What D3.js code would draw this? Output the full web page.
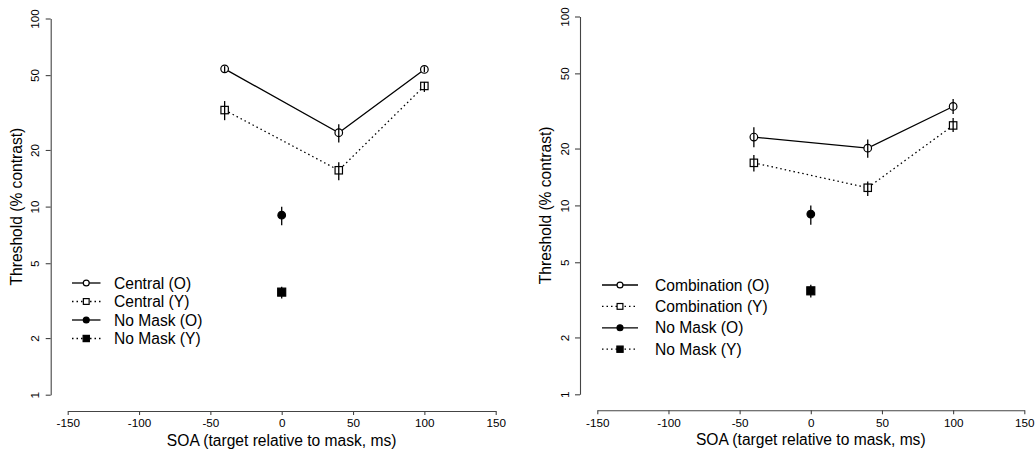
<!DOCTYPE html>
<html>
<head>
<meta charset="utf-8">
<script src="https://cdn.jsdelivr.net/npm/d3@7"></script>
<style>
  body { margin: 0; background: #fff; }
  svg { display: block; font-family: "Liberation Sans", Arial, Helvetica, sans-serif; }
</style>
</head>
<body>
<svg id="chart" width="1035" height="457"></svg>
<script>
/*
 * Threshold vs SOA, two panels (log y)
 */

var soa = [-40, 40, 100];
var xTicks = [-150, -100, -50, 0, 50, 100, 150];
var yTicks = [1, 2, 5, 10, 20, 50, 100];

// left panel: central mask
var centralOld   = [54.0, 24.7, 53.6];
var centralOldLo = [52.0, 21.9, 51.8];
var centralOldHi = [55.8, 27.4, 55.6];
var centralYoung   = [32.6, 15.6, 43.8];
var centralYoungLo = [28.8, 13.8, 40.7];
var centralYoungHi = [36.4, 17.2, 46.0];

// right panel: combination mask
var comboOld   = [23.0, 20.1, 33.4];
var comboOldLo = [20.3, 17.9, 30.5];
var comboOldHi = [25.9, 22.3, 36.6];
var comboYoung   = [16.8, 12.4, 26.5];
var comboYoungLo = [15.1, 11.2, 24.5];
var comboYoungHi = [18.5, 13.4, 29.0];

// no mask, at SOA 0
var noMaskSoa = [0];
var noMaskOldL = [9.0],  noMaskOldLLo = [7.97], noMaskOldLHi = [9.97];
var noMaskYoungL = [3.51], noMaskYoungLLo = [3.25], noMaskYoungLHi = [3.75];
var noMaskOldR = [9.0],  noMaskOldRLo = [7.9],  noMaskOldRHi = [10.0];
var noMaskYoungR = [3.53], noMaskYoungRLo = [3.25], noMaskYoungRHi = [3.8];

var leftLabels  = ['Central (O)', 'Central (Y)', 'No Mask (O)', 'No Mask (Y)'];
var rightLabels = ['Combination (O)', 'Combination (Y)', 'No Mask (O)', 'No Mask (Y)'];

var svg = d3.select('#chart');
var DOT = '1.5,3';

function zip(xs, ys, lo, hi){
    return xs.map(function(x, i){ return {x: x, y: ys[i], lo: lo[i], hi: hi[i]}; });
}

function marker(g, kind, x, y, big){
    var s = big ? 1 : 0.78;
    if(kind === 'circle' || kind === 'dot')
    {
        g.append('circle').attr('cx', x).attr('cy', y).attr('r', 3.8 * s)
            .attr('fill', kind === 'dot' ? '#000' : '#fff')
            .attr('stroke', '#000').attr('stroke-width', 1.2);
    }
    else
    {
        var h = (kind === 'fsquare' ? 4 : 3.7) * s;
        g.append('rect').attr('x', x - h).attr('y', y - h)
            .attr('width', 2 * h).attr('height', 2 * h)
            .attr('fill', kind === 'fsquare' ? '#000' : '#fff')
            .attr('stroke', '#000').attr('stroke-width', 1.2);
    }
}

function drawPanel(cfg){
    var g = svg.append('g');
    var x = d3.scaleLinear().domain([-150, 150]).range([cfg.x0, cfg.x1]);
    var y = d3.scaleLog().domain([1, 100]).range([cfg.yBot, cfg.yTop]);

    // axes
    var ya = g.append('g').attr('transform', 'translate(' + cfg.yAxisX + ',0)')
        .call(d3.axisLeft(y).tickValues(yTicks).tickSize(5).tickSizeOuter(0)
            .tickFormat(function(d){ return String(d); }));
    ya.selectAll('text')
        .attr('transform', 'rotate(-90)')
        .attr('x', 0).attr('y', -11.5).attr('dy', 0)
        .attr('text-anchor', 'middle');

    var xa = g.append('g').attr('transform', 'translate(0,' + cfg.xAxisY + ')')
        .call(d3.axisBottom(x).tickValues(xTicks).tickSize(4).tickSizeOuter(0)
            .tickFormat(function(d){ return String(d); }));
    xa.selectAll('text').attr('y', 8).attr('dy', '0.71em');

    [ya, xa].forEach(function(a){
        a.selectAll('text').attr('font-size', 11.7).attr('fill', '#000')
            .attr('font-family', null);
        a.selectAll('path, line').attr('stroke', '#444').attr('stroke-width', 1.1);
    });

    g.append('text')
        .attr('x', x(0)).attr('y', cfg.xAxisY + 35)
        .attr('text-anchor', 'middle').attr('font-size', 15.6)
        .text('SOA (target relative to mask, ms)');
    g.append('text')
        .attr('transform', 'translate(' + cfg.ylabX + ',' + y(10) + ') rotate(-90)')
        .attr('text-anchor', 'middle').attr('font-size', 15.6)
        .text('Threshold (% contrast)');

    var line = d3.line().x(function(d){ return x(d.x); }).y(function(d){ return y(d.y); });

    cfg.series.forEach(function(s){
        var pts = s.data;
        if(pts.length > 1)
        {
            g.append('path').datum(pts).attr('d', line)
                .attr('fill', 'none').attr('stroke', '#000').attr('stroke-width', 1.3)
                .attr('stroke-dasharray', s.dashed ? DOT : null);
        }
        pts.forEach(function(p){
            marker(g, s.kind, x(p.x), y(p.y), true);
        });
        g.selectAll(null).data(pts).enter().append('line')
            .attr('x1', function(d){ return x(d.x); })
            .attr('x2', function(d){ return x(d.x); })
            .attr('y1', function(d){ return y(d.lo); })
            .attr('y2', function(d){ return y(d.hi); })
            .attr('stroke', '#000').attr('stroke-width', 1.3);
    });

    // legend
    var lg = g.append('g');
    cfg.series.forEach(function(s, i){
        var ly = cfg.legY + i * cfg.legStep;
        lg.append('line')
            .attr('x1', cfg.legX0).attr('x2', cfg.legX1)
            .attr('y1', ly).attr('y2', ly)
            .attr('stroke', '#000').attr('stroke-width', 1.3)
            .attr('stroke-dasharray', s.dashed ? DOT : null);
        marker(lg, s.kind, (cfg.legX0 + cfg.legX1) / 2, ly, false);
        lg.append('text')
            .attr('x', cfg.legText).attr('y', ly).attr('dy', '0.36em')
            .attr('font-size', 15.6).text(s.label);
    });
}

drawPanel({
    x0: 67.7, x1: 495.7, yBot: 394.7, yTop: 18.5,
    yAxisX: 50.7, xAxisY: 411, ylabX: 21.5,
    legX0: 72, legX1: 100.5, legText: 114, legY: 283, legStep: 18.5,
    series: [
        {label: leftLabels[0], kind: 'circle',  dashed: false, data: zip(soa, centralOld, centralOldLo, centralOldHi)},
        {label: leftLabels[1], kind: 'square',  dashed: true,  data: zip(soa, centralYoung, centralYoungLo, centralYoungHi)},
        {label: leftLabels[2], kind: 'dot',     dashed: false, data: zip(noMaskSoa, noMaskOldL, noMaskOldLLo, noMaskOldLHi)},
        {label: leftLabels[3], kind: 'fsquare', dashed: true,  data: zip(noMaskSoa, noMaskYoungL, noMaskYoungLLo, noMaskYoungLHi)}
    ]
});

drawPanel({
    x0: 597.3, x1: 1024.3, yBot: 394.3, yTop: 16.5,
    yAxisX: 580, xAxisY: 410.3, ylabX: 550.5,
    legX0: 602, legX1: 638, legText: 655, legY: 285, legStep: 21.4,
    series: [
        {label: rightLabels[0], kind: 'circle',  dashed: false, data: zip(soa, comboOld, comboOldLo, comboOldHi)},
        {label: rightLabels[1], kind: 'square',  dashed: true,  data: zip(soa, comboYoung, comboYoungLo, comboYoungHi)},
        {label: rightLabels[2], kind: 'dot',     dashed: false, data: zip(noMaskSoa, noMaskOldR, noMaskOldRLo, noMaskOldRHi)},
        {label: rightLabels[3], kind: 'fsquare', dashed: true,  data: zip(noMaskSoa, noMaskYoungR, noMaskYoungRLo, noMaskYoungRHi)}
    ]
});
</script>
</body>
</html>
